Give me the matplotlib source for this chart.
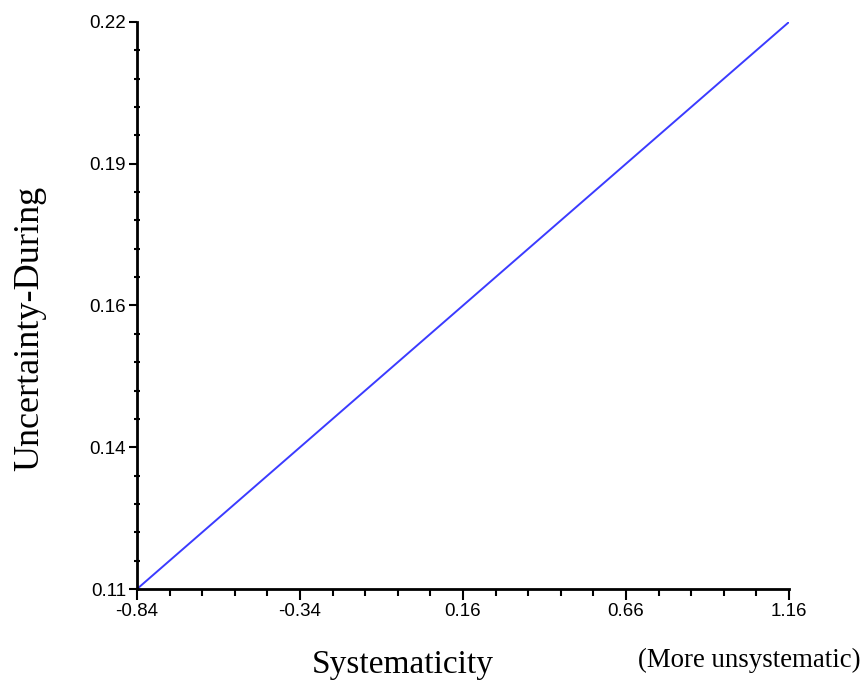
import numpy as np
import matplotlib.pyplot as plt
from matplotlib.ticker import AutoMinorLocator

# Data: straight line from the low end to the high end of the range
systematicity = [-0.84, 1.16]
uncertainty = [0.11, 0.22]

x_ticks = [-0.84, -0.34, 0.16, 0.66, 1.16]
y_ticks = np.linspace(0.11, 0.22, 5)
y_tick_labels = ['0.11', '0.14', '0.16', '0.19', '0.22']

W, H = 866, 682
fig = plt.figure(figsize=(W / 100, H / 100), dpi=100)
ax = fig.add_axes([137 / W, 1 - 589 / H, (789 - 137) / W, (589 - 22) / H])

ax.plot(systematicity, uncertainty, color='#3b3bff', linewidth=1.4)

ax.set_xlim(-0.84, 1.16)
ax.set_ylim(0.11, 0.22)

ax.set_xticks(x_ticks)
ax.set_xticklabels(['%.2f' % t for t in x_ticks])
ax.set_yticks(y_ticks)
ax.set_yticklabels(y_tick_labels)
ax.xaxis.set_minor_locator(AutoMinorLocator(5))
ax.yaxis.set_minor_locator(AutoMinorLocator(5))

for s in ['top', 'right']:
    ax.spines[s].set_visible(False)
for s in ['left', 'bottom']:
    ax.spines[s].set_linewidth(2)

ax.tick_params(axis='both', which='major', labelsize=13.5, width=1.5,
               colors='black', labelfontfamily='Liberation Sans')
ax.tick_params(axis='x', which='major', length=8, direction='out', pad=2)
ax.tick_params(axis='x', which='minor', length=5, width=1.5, direction='out')
ax.tick_params(axis='y', which='major', length=6, direction='out', pad=2)
ax.tick_params(axis='y', which='minor', length=5, width=1.5, direction='inout')

# axis titles placed where they sit in the original
fig.text(403 / W, 1 - 673 / H, 'Systematicity', fontsize=24,
         family='Liberation Serif', ha='center', va='baseline')
fig.text(30 / W, 1 - 328 / H, 'Uncertainty-During', fontsize=26,
         family='Liberation Serif', ha='center', va='center', rotation=90)
fig.text(860 / W, 1 - 660 / H, '(More unsystematic)', fontsize=19.4,
         family='Liberation Serif', ha='right', va='center')

plt.savefig('out.png', dpi=100)
